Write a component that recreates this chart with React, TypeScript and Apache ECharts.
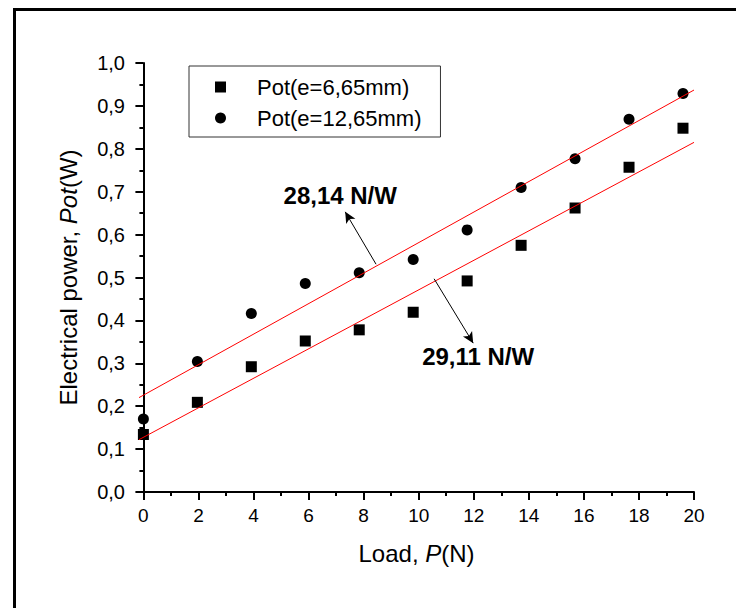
import React, { useEffect, useRef } from 'react';
import * as echarts from 'echarts';

// ---- data ----
const loads = [0, 1.96, 3.92, 5.88, 7.84, 9.8, 11.76, 13.72, 15.68, 17.64, 19.6];
const potThin = [0.134, 0.209, 0.292, 0.352, 0.378, 0.419, 0.492, 0.575, 0.662, 0.757, 0.848];
const potThick = [0.17, 0.304, 0.416, 0.486, 0.511, 0.542, 0.611, 0.71, 0.777, 0.869, 0.929];
const seriesNames = ['Pot(e=6,65mm)', 'Pot(e=12,65mm)'];
const fitX = [-0.16, 20];
const fitThinY = [0.122, 0.815];
const fitThickY = [0.22, 0.937];
const slopeLabels = ['28,14 N/W', '29,11 N/W'];
const arrowThick = [[8.45, 0.531], [7.33, 0.653]];
const arrowThin = [[10.56, 0.497], [11.98, 0.347]];
const labelThickAt = [7.15, 0.69];
const labelThinAt = [12.16, 0.315];
const xMajorTicks = [0, 2, 4, 6, 8, 10, 12, 14, 16, 18, 20];
const xMinorTicks = [1, 3, 5, 7, 9, 11, 13, 15, 17, 19];

const FONT = 'Liberation Sans, Arial, sans-serif';

export default function App() {
  const ref = useRef<HTMLDivElement>(null);
  useEffect(() => {
    if (!ref.current) return;
    const chart = echarts.init(ref.current, null, { renderer: 'svg' });
    const pairs = (ys: number[]) => loads.map((x, i) => [x, ys[i]]);
    const fit = (ys: number[]) => fitX.map((x, i) => [x, ys[i]]);
    const axisCommon = {
      axisLine: { show: true, lineStyle: { color: '#000', width: 2 } },
      splitLine: { show: false },
    };
    const slopeLabel = (text: string) => ({
      show: true,
      position: 'inside',
      formatter: text,
      fontSize: 24,
      fontWeight: 'bold',
      color: '#000',
      fontFamily: FONT,
    });
    const arrow = (pts: number[][]) => ({
      silent: true,
      symbol: ['none', 'arrow'],
      symbolSize: [8, 11],
      label: { show: false },
      lineStyle: { color: '#000', width: 1, type: 'solid' },
      data: [[{ coord: pts[0] }, { coord: pts[1] }]],
    });
    chart.setOption({
      animation: false,
      backgroundColor: '#fff',
      textStyle: { fontFamily: FONT },
      grid: { left: 139, right: 42, top: 63, bottom: 116, containLabel: false },
      graphic: [
        {
          type: 'rect',
          left: 12,
          top: 7,
          shape: { width: 800, height: 700 },
          style: { fill: 'none', stroke: '#000', lineWidth: 3 },
          silent: true,
        },
      ],
      legend: {
        show: true,
        orient: 'vertical',
        left: 189,
        top: 66,
        data: seriesNames,
        itemWidth: 11,
        itemHeight: 11,
        itemGap: 7,
        padding: [9, 19, 7, 26],
        borderColor: '#333',
        borderWidth: 1,
        textStyle: {
          fontFamily: FONT,
          fontSize: 22,
          lineHeight: 24,
          color: '#000',
          padding: [0, 0, 0, 26],
        },
        selectedMode: false,
      },
      xAxis: [
        {
          type: 'value',
          min: fitX[0],
          max: 20,
          ...axisCommon,
          axisTick: { show: true, inside: false, length: 8, lineStyle: { color: '#000', width: 2 }, customValues: xMajorTicks },
          axisLabel: { show: true, margin: 14, fontSize: 19, color: '#000', fontFamily: FONT, customValues: xMajorTicks },
          name: '{n|Load, }{i|P}{n|(N)}',
          nameLocation: 'middle',
          nameGap: 49,
          nameTextStyle: {
            rich: {
              n: { fontSize: 24, fontFamily: FONT, color: '#000' },
              i: { fontSize: 24, fontFamily: FONT, color: '#000', fontStyle: 'italic' },
            },
          },
        },
        {
          type: 'value',
          min: fitX[0],
          max: 20,
          position: 'bottom',
          axisLine: { show: false },
          splitLine: { show: false },
          axisTick: { show: true, inside: false, length: 4, lineStyle: { color: '#000', width: 2 }, customValues: xMinorTicks },
          axisLabel: { show: false },
        },
      ],
      yAxis: {
        type: 'value',
        min: 0,
        max: 1,
        interval: 0.1,
        ...axisCommon,
        axisTick: { show: true, inside: false, length: 8, lineStyle: { color: '#000', width: 2 } },
        minorTick: { show: true, splitNumber: 2, length: 4, lineStyle: { color: '#000', width: 2 } },
        minorSplitLine: { show: false },
        axisLabel: {
          margin: 14,
          fontSize: 20,
          color: '#000',
          fontFamily: FONT,
          formatter: (v: number) => v.toFixed(1).replace('.', ','),
        },
        name: 'Electrical power, {i|Pot}(W)',
        nameLocation: 'middle',
        nameGap: 59,
        nameTextStyle: {
          fontSize: 24,
          color: '#000',
          fontFamily: FONT,
          rich: { i: { fontSize: 24, fontFamily: FONT, color: '#000', fontStyle: 'italic' } },
        },
      },
      series: [
        {
          name: seriesNames[0],
          type: 'scatter',
          symbol: 'rect',
          symbolSize: 11,
          itemStyle: { color: '#000', opacity: 1 },
          data: pairs(potThin),
          z: 2,
          markLine: arrow(arrowThin),
          markPoint: {
            silent: true,
            symbol: 'circle',
            symbolSize: 0,
            data: [{ coord: labelThinAt, label: slopeLabel(slopeLabels[1]) }],
          },
        },
        {
          name: seriesNames[1],
          type: 'scatter',
          symbol: 'circle',
          symbolSize: 11,
          itemStyle: { color: '#000', opacity: 1 },
          data: pairs(potThick),
          z: 2,
          markLine: arrow(arrowThick),
          markPoint: {
            silent: true,
            symbol: 'circle',
            symbolSize: 0,
            data: [{ coord: labelThickAt, label: slopeLabel(slopeLabels[0]) }],
          },
        },
        {
          name: 'fit thin',
          type: 'line',
          data: fit(fitThinY),
          symbol: 'none',
          lineStyle: { color: '#ff0000', width: 1 },
          itemStyle: { color: '#ff0000' },
          z: 3,
          silent: true,
        },
        {
          name: 'fit thick',
          type: 'line',
          data: fit(fitThickY),
          symbol: 'none',
          lineStyle: { color: '#ff0000', width: 1 },
          itemStyle: { color: '#ff0000' },
          z: 3,
          silent: true,
        },
      ],
    });
    return () => chart.dispose();
  }, []);
  return (
    <div
      ref={ref}
      style={{ position: 'fixed', left: 0, top: 0, width: 736, height: 608, background: '#fff' }}
    />
  );
}
